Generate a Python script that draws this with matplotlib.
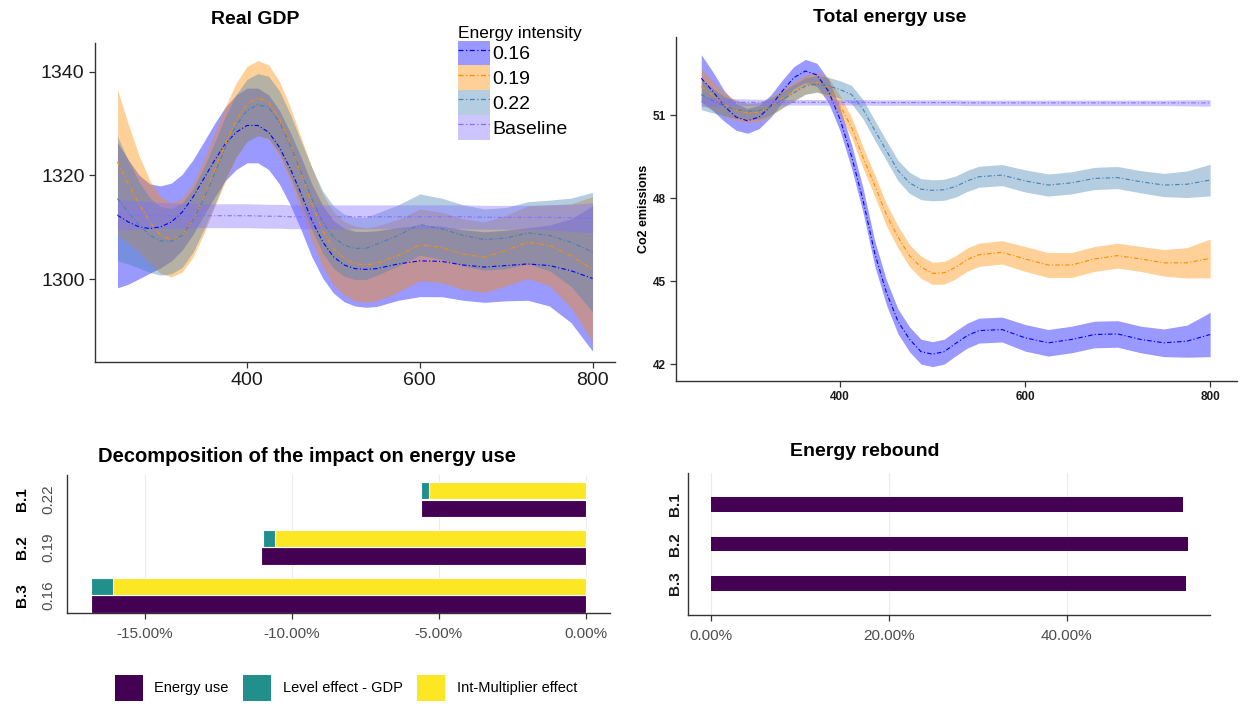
import matplotlib
matplotlib.use("Agg")
import matplotlib.pyplot as plt
import matplotlib.transforms as mtransforms
from matplotlib.patches import Patch
from matplotlib.lines import Line2D
from matplotlib.legend_handler import HandlerTuple

plt.rcParams['font.family'] = ['Liberation Sans', 'DejaVu Sans']

# ---- data -------------------------------------------------------------
steps = [250, 262.5, 275, 287.5, 300, 312.5, 325, 337.5, 350, 362.5, 375, 387.5,
         400, 412.5, 425, 437.5, 450, 462.5, 475, 487.5, 500, 512.5, 525, 537.5,
         550, 575, 600, 625, 650, 675, 700, 725, 750, 775, 800]

series_names = ["0.16", "0.19", "0.22", "Baseline"]

# Real GDP (smoothed lines) and half width of the confidence band
gdp_016 = [1312.3, 1311.0, 1310.05, 1309.73, 1310.05, 1311.0, 1312.9, 1315.8, 1319.35, 1322.9, 1326.1, 1328.3,
           1329.6, 1329.6, 1328.3, 1325.4, 1321.3, 1316.5, 1311.3, 1307.2, 1304.3, 1302.7, 1302.0, 1301.85,
           1302.0, 1302.9, 1303.5, 1303.4, 1302.7, 1302.3, 1302.6, 1302.9, 1302.6, 1301.6, 1300.1]
gdp_019 = [1322.56, 1318.4, 1314.5, 1311.0, 1308.45, 1307.5, 1308.45, 1311.3, 1315.8, 1320.95, 1326.1, 1330.6,
           1333.8, 1334.9, 1334.1, 1330.9, 1326.1, 1320.3, 1314.5, 1309.4, 1305.9, 1304.0, 1303.0, 1302.7,
           1303.0, 1304.5, 1306.6, 1306.1, 1304.8, 1304.2, 1305.5, 1307.1, 1306.5, 1304.5, 1301.9]
gdp_022 = [1315.5, 1312.9, 1310.4, 1308.45, 1307.35, 1307.3, 1308.45, 1311.3, 1315.5, 1320.3, 1325.4, 1329.6,
           1332.5, 1333.6, 1333.1, 1330.25, 1325.8, 1320.6, 1315.5, 1311.0, 1308.1, 1306.5, 1305.9, 1305.9,
           1306.7, 1308.4, 1310.5, 1309.7, 1308.4, 1307.6, 1307.9, 1308.9, 1308.4, 1307.1, 1305.2]
gdp_base = [1312.4, 1312.35, 1312.3, 1312.3, 1312.25, 1312.2, 1312.2, 1312.2, 1312.2, 1312.2, 1312.2, 1312.2,
            1312.2, 1312.15, 1312.1, 1312.1, 1312.0, 1312.0, 1312.0, 1312.0, 1312.0, 1312.0, 1312.0, 1312.0,
            1312.0, 1312.0, 1312.0, 1312.0, 1312.0, 1311.9, 1311.9, 1311.9, 1311.9, 1311.8, 1311.8]
gdp_hw_016 = [14, 12, 10, 8.6, 7.9, 7.5, 7.3, 7.2, 7.1, 7.1, 7.1, 7.2,
              7.2, 7.2, 7.2, 7.1, 7.0, 7.0, 7.0, 7.0, 7.0, 7.1, 7.2, 7.3,
              7.3, 7.0, 6.9, 6.8, 6.8, 6.8, 6.8, 7.0, 7.8, 10, 14]
gdp_hw_019 = [14, 11.5, 9.3, 8.0, 7.4, 7.1, 7.1, 7.1, 7.1, 7.1, 7.2, 7.2,
              7.2, 7.2, 7.2, 7.2, 7.1, 7.0, 7.0, 7.0, 7.0, 7.1, 7.2, 7.2,
              7.2, 7.0, 6.9, 6.8, 6.8, 6.8, 6.8, 7.0, 7.8, 10, 14]
gdp_hw_022 = [12, 10, 8.3, 7.2, 6.6, 6.3, 6.2, 6.1, 6.0, 6.0, 6.0, 6.0,
              6.0, 6.0, 6.0, 6.0, 6.0, 6.0, 6.0, 6.0, 6.0, 6.0, 6.0, 6.0,
              6.0, 5.9, 5.9, 5.9, 5.9, 5.9, 5.9, 6.0, 6.8, 8.5, 11.5]
gdp_hw_base = [3.0, 2.85, 2.7, 2.6, 2.5, 2.45, 2.4, 2.35, 2.3, 2.3, 2.3, 2.3,
               2.3, 2.3, 2.3, 2.3, 2.3, 2.3, 2.3, 2.3, 2.3, 2.3, 2.3, 2.3,
               2.3, 2.3, 2.3, 2.3, 2.3, 2.3, 2.3, 2.3, 2.4, 2.6, 2.9]

# Total energy use
en_016 = [52.33, 51.86, 51.32, 50.93, 50.79, 50.93, 51.32, 51.86, 52.35, 52.59, 52.45, 51.86,
          50.85, 49.5, 47.9, 46.0, 44.6, 43.55, 42.9, 42.45, 42.36, 42.45, 42.75, 43.03,
          43.21, 43.25, 42.95, 42.77, 42.89, 43.07, 43.09, 42.89, 42.77, 42.83, 43.07]
en_019 = [52.03, 51.7, 51.38, 51.17, 51.08, 51.1, 51.3, 51.6, 51.86, 52.1, 52.19, 52.0,
          51.35, 50.55, 49.45, 48.45, 47.4, 46.6, 45.92, 45.5, 45.28, 45.3, 45.5, 45.78,
          45.95, 46.04, 45.80, 45.58, 45.58, 45.80, 45.92, 45.80, 45.66, 45.66, 45.82]
en_022 = [51.74, 51.52, 51.32, 51.2, 51.14, 51.16, 51.3, 51.55, 51.8, 52.05, 52.12, 52.05,
          51.92, 51.74, 51.2, 50.45, 49.72, 49.0, 48.55, 48.32, 48.28, 48.3, 48.42, 48.62,
          48.77, 48.83, 48.62, 48.47, 48.55, 48.71, 48.74, 48.59, 48.47, 48.50, 48.65]
en_base = [51.48, 51.47, 51.47, 51.46, 51.46, 51.46, 51.46, 51.46, 51.46, 51.46, 51.46, 51.46,
           51.46, 51.46, 51.46, 51.45, 51.45, 51.45, 51.45, 51.45, 51.45, 51.45, 51.45, 51.44,
           51.44, 51.44, 51.44, 51.44, 51.44, 51.44, 51.44, 51.44, 51.44, 51.44, 51.44]
en_hw_016 = [0.85, 0.7, 0.55, 0.48, 0.45, 0.42, 0.4, 0.4, 0.4, 0.42, 0.42, 0.42,
             0.42, 0.43, 0.44, 0.45, 0.45, 0.45, 0.45, 0.45, 0.45, 0.45, 0.45, 0.45,
             0.45, 0.45, 0.48, 0.48, 0.48, 0.48, 0.48, 0.48, 0.5, 0.58, 0.8]
en_hw_019 = [0.65, 0.52, 0.42, 0.37, 0.35, 0.34, 0.33, 0.33, 0.33, 0.34, 0.35, 0.35,
             0.35, 0.37, 0.38, 0.39, 0.4, 0.4, 0.4, 0.4, 0.4, 0.41, 0.42, 0.42,
             0.42, 0.42, 0.45, 0.45, 0.45, 0.45, 0.45, 0.45, 0.48, 0.55, 0.7]
en_hw_022 = [0.55, 0.44, 0.35, 0.32, 0.3, 0.3, 0.3, 0.3, 0.3, 0.3, 0.3, 0.31,
             0.32, 0.33, 0.35, 0.36, 0.36, 0.37, 0.38, 0.38, 0.38, 0.38, 0.38, 0.38,
             0.38, 0.38, 0.4, 0.4, 0.4, 0.4, 0.4, 0.4, 0.42, 0.48, 0.57]
en_hw_base = [0.18, 0.16, 0.14, 0.13, 0.12, 0.11, 0.11, 0.1, 0.1, 0.1, 0.1, 0.1,
              0.1, 0.1, 0.1, 0.1, 0.1, 0.1, 0.1, 0.1, 0.1, 0.1, 0.1, 0.1,
              0.1, 0.1, 0.1, 0.1, 0.1, 0.1, 0.1, 0.1, 0.1, 0.11, 0.12]

# Decomposition (percent)
scen_labels = ["B.3", "B.2", "B.1"]
scen_intensity = ["0.16", "0.19", "0.22"]
energy_use = [-16.83, -11.05, -5.62]
level_effect = [-0.77, -0.41, -0.29]
int_multiplier = [-16.06, -10.58, -5.33]

# Rebound (percent)
rebound = [53.4, 53.6, 53.1]

# ---- styles -----------------------------------------------------------
line_cols = ["#0000FF", "#FF8C00", "#4682B4", "#8470FF"]
fill_cols = ["#0000FF", "#FF8C00", "#4682B4", "#8470FF"]
fill_alpha = 0.4
dash = (0, (4, 2, 1, 2))
vir = ["#440154", "#21908C", "#FDE725"]
tick_grey = "#4D4D4D"

W, H = 1251, 709
fig = plt.figure(figsize=(W / 100, H / 100), dpi=100)


def axrect(l, t, r, b):
    return [l / W, 1 - b / H, (r - l) / W, (b - t) / H]


def classic(ax):
    for s in ("top", "right"):
        ax.spines[s].set_visible(False)
    for s in ("left", "bottom"):
        ax.spines[s].set_color("#333333")
        ax.spines[s].set_linewidth(1.0)
    ax.tick_params(length=4, width=0.9, color="#333333")


def smooth_panel(ax, lines, hws):
    for i, (yv, hw) in enumerate(zip(lines, hws)):
        lo = [a - b for a, b in zip(yv, hw)]
        hi = [a + b for a, b in zip(yv, hw)]
        ax.fill_between(steps, lo, hi, color=fill_cols[i], alpha=fill_alpha, lw=0)
    for i, yv in enumerate(lines):
        ax.plot(steps, yv, color=line_cols[i], lw=0.8, linestyle=dash)


# ---- Real GDP ---------------------------------------------------------
ax1 = fig.add_axes(axrect(95, 43, 615, 362))
smooth_panel(ax1, [gdp_016, gdp_019, gdp_022, gdp_base],
             [gdp_hw_016, gdp_hw_019, gdp_hw_022, gdp_hw_base])
ax1.set_xlim(224, 826)
ax1.set_ylim(1284, 1345.5)
ax1.set_xticks([400, 600, 800])
ax1.set_yticks([1300, 1320, 1340])
classic(ax1)
ax1.tick_params(labelsize=14, labelcolor="#1A1A1A")
fig.text(255 / W, 1 - 20 / H, "Real GDP", ha="center", va="center",
         fontsize=14, fontweight="bold")

handles = [(Patch(facecolor=fill_cols[i], alpha=fill_alpha, lw=0),
            Line2D([], [], color=line_cols[i], lw=0.9, linestyle=dash))
           for i in range(4)]
leg = fig.legend(handles, series_names, loc="upper left",
                 bbox_to_anchor=(444 / W, 1 - 12 / H), frameon=False,
                 handler_map={tuple: HandlerTuple(ndivide=1)},
                 fontsize=14, title="Energy intensity", title_fontsize=12.5,
                 handlelength=1.65, handleheight=1.58, labelspacing=0.0,
                 handletextpad=0.15, borderpad=0.2, alignment="left")

# ---- Total energy use -------------------------------------------------
ax2 = fig.add_axes(axrect(676, 37, 1237, 381))
smooth_panel(ax2, [en_016, en_019, en_022, en_base],
             [en_hw_016, en_hw_019, en_hw_022, en_hw_base])
ax2.set_xlim(222.7, 829)
ax2.set_ylim(41.39, 53.82)
ax2.set_xticks([400, 600, 800])
ax2.set_yticks([42, 45, 48, 51])
classic(ax2)
ax2.tick_params(labelsize=8.5, labelcolor="#1A1A1A")
for lab in ax2.get_xticklabels() + ax2.get_yticklabels():
    lab.set_fontweight("bold")
ax2.set_ylabel("Co2 emissions", fontsize=9, fontweight="bold", labelpad=2)
fig.text(890 / W, 1 - 17 / H, "Total energy use", ha="center", va="center",
         fontsize=14, fontweight="bold")

# ---- Decomposition ----------------------------------------------------
ax3 = fig.add_axes(axrect(67, 475, 610, 613))
ypos = list(range(len(scen_labels)))
bh = 0.36
off = 0.185
ax3.barh([y - off for y in ypos], energy_use, height=bh, color=vir[0],
         edgecolor="white", lw=0.8, zorder=3)
ax3.barh([y + off for y in ypos], int_multiplier, height=bh, color=vir[2],
         edgecolor="white", lw=0.8, zorder=3)
ax3.barh([y + off for y in ypos], level_effect, left=int_multiplier, height=bh,
         color=vir[1], edgecolor="white", lw=0.8, zorder=3)
ax3.set_xlim(-17.64, 0.82)
ax3.set_ylim(-0.375, 2.51)
xt = [-15, -10, -5, 0]
ax3.set_xticks(xt)
ax3.set_xticklabels([f"{v:.2f}%" for v in xt])
ax3.set_yticks([])
ax3.grid(axis="x", color="#EBEBEB", lw=0.8, zorder=0)
classic(ax3)
ax3.tick_params(axis="x", labelsize=11, labelcolor=tick_grey, pad=6)
tr = mtransforms.blended_transform_factory(fig.transFigure, ax3.transData)
for y, s, k in zip(ypos, scen_labels, scen_intensity):
    ax3.text(22 / W, y, s, transform=tr, rotation=90, ha="center", va="center",
             fontsize=11, fontweight="bold")
    ax3.text(48 / W, y, k, transform=tr, rotation=90, ha="center", va="center",
             fontsize=11, color=tick_grey)
fig.text(307 / W, 1 - 456 / H, "Decomposition of the impact on energy use",
         ha="center", va="center", fontsize=14.5, fontweight="bold")

leg_handles = [Patch(facecolor=c, edgecolor="none") for c in vir]
fig.legend(leg_handles, ["Energy use", "Level effect - GDP", "Int-Multiplier effect"],
           loc="center", bbox_to_anchor=(346 / W, 1 - 688 / H), ncol=3,
           frameon=False, fontsize=10.5, handlelength=1.9, handleheight=2.4,
           handletextpad=0.8, columnspacing=1.0)

# ---- Energy rebound ---------------------------------------------------
ax4 = fig.add_axes(axrect(688, 473, 1210, 615))
ax4.barh(ypos, rebound, height=0.38, color=vir[0], zorder=3)
ax4.set_xlim(-2.6, 56.1)
ax4.set_ylim(-0.8, 2.8)
xt4 = [0, 20, 40]
ax4.set_xticks(xt4)
ax4.set_xticklabels([f"{v:.2f}%" for v in xt4])
ax4.set_yticks(ypos)
ax4.set_yticklabels(scen_labels, rotation=90, va="center", fontweight="bold")
ax4.grid(axis="x", color="#EBEBEB", lw=0.8, zorder=0)
classic(ax4)
ax4.tick_params(axis="x", labelsize=11, labelcolor=tick_grey, pad=6)
ax4.tick_params(axis="y", labelsize=11, labelcolor="#1A1A1A", length=0, pad=4)
fig.text(865 / W, 1 - 451 / H, "Energy rebound", ha="center", va="center",
         fontsize=14, fontweight="bold")

fig.savefig("out.png", dpi=100)
